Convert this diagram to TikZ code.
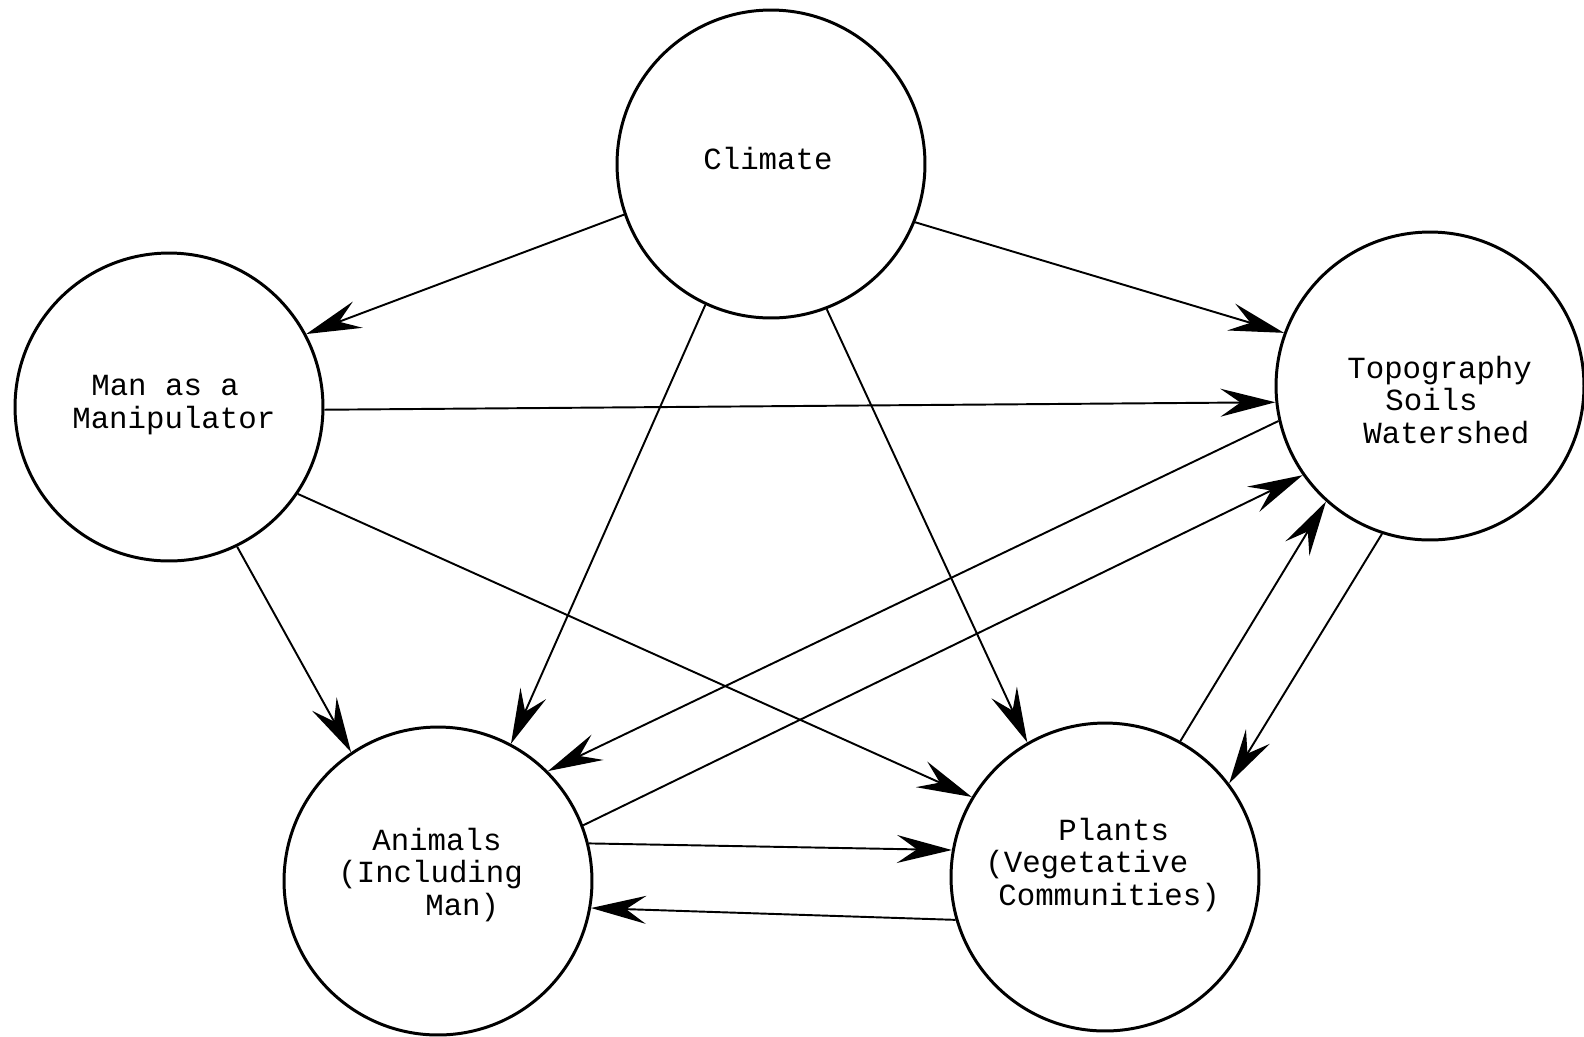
\documentclass[tikz,border=0pt]{standalone}
\usepackage{fontspec}
\setmonofont{Liberation Mono}
\usetikzlibrary{arrows.meta}

\begin{document}
\begin{tikzpicture}[x=0.02cm, y=-0.02cm,
  every node/.style={font=\ttfamily\fontsize{17.5}{18.5}\selectfont},
  sphere/.style={draw, circle, line width=1.7pt, minimum size=6.16cm, inner sep=0pt},
  txt/.style={align=left, inner sep=0pt, anchor=west},
  link/.style={line width=1.1pt, -{Stealth[length=11mm, width=5.6mm, inset=4mm]}}]
  \useasboundingbox (0,0) rectangle (1584,1036);

  % circles
  \node[sphere] (climate) at (771,164) {};
  \node[sphere] (manip) at (169,407) {};
  \node[sphere] (topo) at (1430,386) {};
  \node[sphere] (animals) at (438,881) {};
  \node[sphere] (plants) at (1105,877) {};

  % labels
  \node[txt] (climatetxt) at (703,158) {Climate};
  \node[txt] (maniptxt) at (72,405) {\hspace*{0.38cm}Man as a\\Manipulator};
  \node[txt] (topotxt) at (1347,400) {Topography\\\hspace*{0.76cm}Soils\\\hspace*{0.32cm}Watershed};
  \node[txt] (animalstxt) at (338,875) {\hspace*{0.68cm}Animals\\(Including\\\hspace*{1.74cm}Man)};
  \node[txt] (plantstxt) at (985,865) {\hspace*{1.46cm}Plants\\(Vegetative\\\hspace*{0.26cm}Communities)};

  % from climate
  \draw[link] (climate.199) -- (manip.28);
  \draw[link] (climate.338) -- (topo.160);
  \draw[link] (climate.245) -- (animals.62);
  \draw[link] (climate.291) -- (plants.120);

  % from man
  \draw[link] (manip.-1) -- (topo.186);
  \draw[link] (manip.326) -- (plants.149);
  \draw[link] (manip.296) -- (animals.124);

  % topography <-> animals, plants
  \draw[link] (topo.193) -- (animals.45);
  \draw[link] (animals.21) -- (topo.215);
  \draw[link] (plants.61) -- (topo.228);
  \draw[link] (topo.252) -- (plants.37);

  % animals <-> plants
  \draw[link] (animals.14) -- (plants.170);
  \draw[link] (plants.196) -- (animals.350);
\end{tikzpicture}
\end{document}
